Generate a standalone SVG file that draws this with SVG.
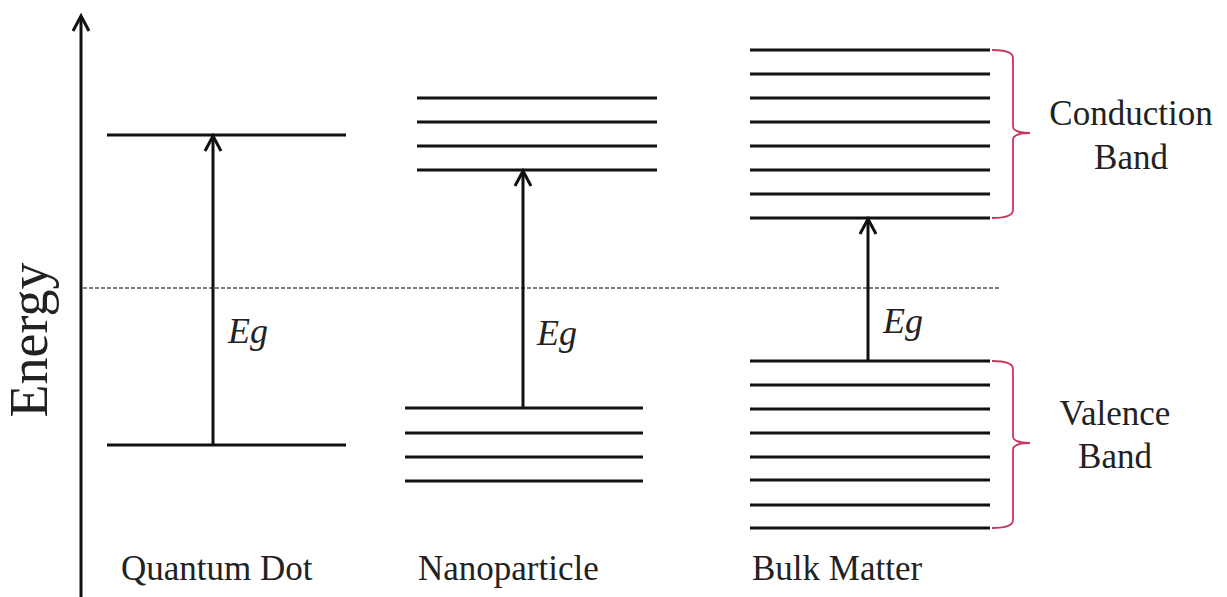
<svg xmlns="http://www.w3.org/2000/svg" width="1227" height="597" viewBox="0 0 1227 597">
<style>
.lvl{stroke:#111;stroke-width:3;fill:none}
.arr{stroke:#111;stroke-width:3;fill:none;marker-end:url(#ah)}
.brace{stroke:#c8385e;stroke-width:1.8;fill:none}
.lbl{font-family:"Liberation Serif",serif;font-size:35px;fill:#222}
.eg{font-family:"Liberation Serif",serif;font-size:36px;font-style:italic;fill:#222}
</style>
<defs>
<marker id="ah" markerUnits="userSpaceOnUse" markerWidth="30" markerHeight="30" viewBox="-20 -15 30 30" refX="0" refY="0" orient="auto">
<path d="M-15,-8 L0,0 L-15,8" fill="none" stroke="#111" stroke-width="3"/>
</marker>
</defs>
<rect width="1227" height="597" fill="#fff"/>
<g id="axis">
<line class="arr" x1="81" y1="597" x2="81" y2="16"/>
<text class="lbl" transform="translate(47,340) rotate(-90)" text-anchor="middle" style="font-size:54px">Energy</text>
</g>
<g id="midline">
<line x1="83" y1="288" x2="1000" y2="288" stroke="#555" stroke-width="1.5" stroke-dasharray="4 2"/>
</g>
<g id="quantum-dot">
<line class="lvl" x1="107" y1="135" x2="346" y2="135"/>
<line class="lvl" x1="107" y1="445" x2="346" y2="445"/>
<text class="lbl" x="121" y="580">Quantum Dot</text>
</g>
<g id="nanoparticle">
<line class="lvl" x1="417" y1="98" x2="657" y2="98"/>
<line class="lvl" x1="417" y1="122" x2="657" y2="122"/>
<line class="lvl" x1="417" y1="146" x2="657" y2="146"/>
<line class="lvl" x1="417" y1="170" x2="657" y2="170"/>
<line class="lvl" x1="405" y1="408" x2="643" y2="408"/>
<line class="lvl" x1="405" y1="433" x2="643" y2="433"/>
<line class="lvl" x1="405" y1="457" x2="643" y2="457"/>
<line class="lvl" x1="405" y1="481" x2="643" y2="481"/>
<text class="lbl" x="418" y="580">Nanoparticle</text>
</g>
<g id="bulk-matter">
<line class="lvl" x1="750" y1="50" x2="990" y2="50"/>
<line class="lvl" x1="750" y1="74" x2="990" y2="74"/>
<line class="lvl" x1="750" y1="98" x2="990" y2="98"/>
<line class="lvl" x1="750" y1="122" x2="990" y2="122"/>
<line class="lvl" x1="750" y1="146" x2="990" y2="146"/>
<line class="lvl" x1="750" y1="170" x2="990" y2="170"/>
<line class="lvl" x1="750" y1="194" x2="990" y2="194"/>
<line class="lvl" x1="750" y1="218" x2="990" y2="218"/>
<line class="lvl" x1="750" y1="361" x2="990" y2="361"/>
<line class="lvl" x1="750" y1="385" x2="990" y2="385"/>
<line class="lvl" x1="750" y1="409" x2="990" y2="409"/>
<line class="lvl" x1="750" y1="433" x2="990" y2="433"/>
<line class="lvl" x1="750" y1="457" x2="990" y2="457"/>
<line class="lvl" x1="750" y1="480" x2="990" y2="480"/>
<line class="lvl" x1="750" y1="505" x2="990" y2="505"/>
<line class="lvl" x1="750" y1="528" x2="990" y2="528"/>
<text class="lbl" x="752" y="580">Bulk Matter</text>
</g>
<g id="conduction-band">
<path class="brace" d="M992,50 Q1013,50 1013,58 L1013,126 Q1013,133 1030,133 Q1013,133 1013,140 L1013,210 Q1013,218 992,218"/>
<text class="lbl" x="1131" y="125" text-anchor="middle">Conduction</text>
<text class="lbl" x="1131" y="169" text-anchor="middle">Band</text>
</g>
<g id="valence-band">
<path class="brace" d="M992,361 Q1013,361 1013,369 L1013,436 Q1013,443 1030,443 Q1013,443 1013,450 L1013,520 Q1013,528 992,528"/>
<text class="lbl" x="1115" y="425" text-anchor="middle">Valence</text>
<text class="lbl" x="1115" y="468" text-anchor="middle">Band</text>
</g>
<g id="connectors">
<line class="arr" x1="213" y1="445" x2="213" y2="136"/>
<line class="arr" x1="523" y1="408" x2="523" y2="171"/>
<line class="arr" x1="868" y1="361" x2="868" y2="219"/>
<text class="eg" x="228" y="343">Eg</text>
<text class="eg" x="537" y="345">Eg</text>
<text class="eg" x="883" y="333">Eg</text>
</g>
</svg>
